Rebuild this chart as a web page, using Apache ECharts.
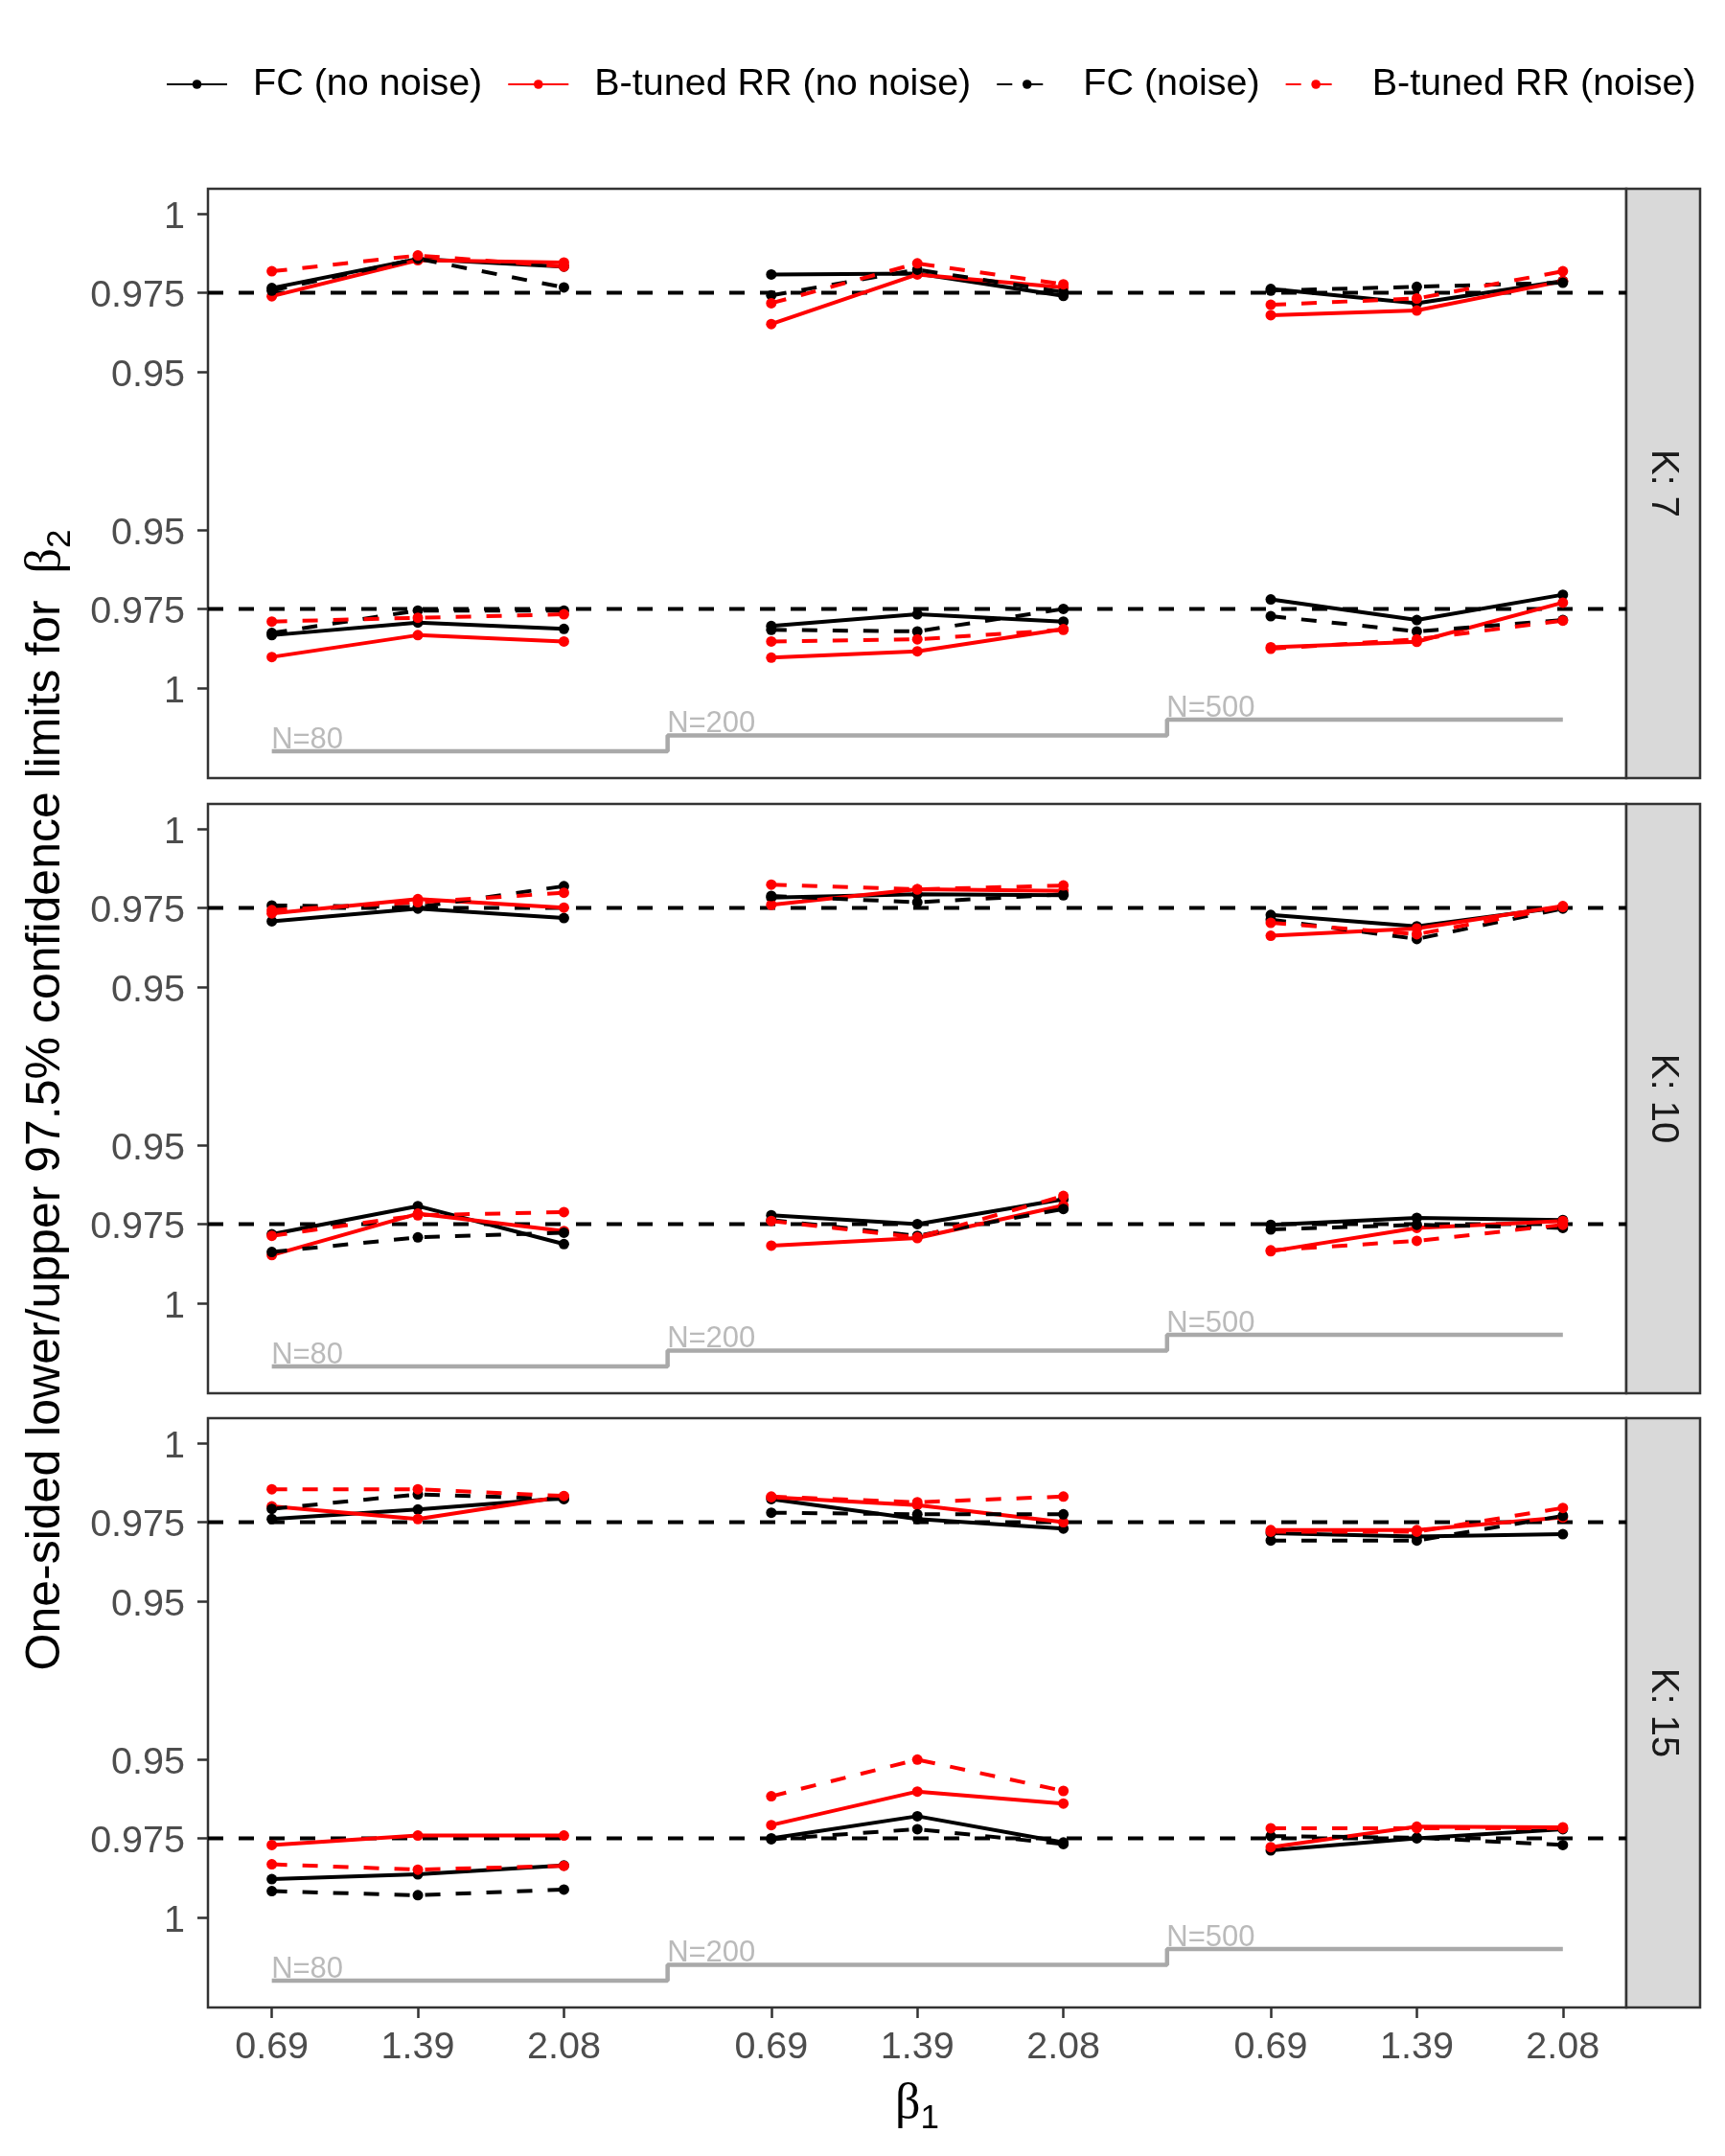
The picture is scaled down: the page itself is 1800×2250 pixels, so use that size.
<!DOCTYPE html>
<html>
<head>
<meta charset="utf-8">
<script src="https://cdn.jsdelivr.net/npm/echarts@6/dist/echarts.min.js"></script>
<style>
  html,body{margin:0;padding:0;background:#fff;}
  #chart{width:1800px;height:2250px;}
</style>
</head>
<body>
<div id="chart"></div>
<script>
// ---- data ----
const panelNames = ['K: 7', 'K: 10', 'K: 15'];
const methodNames = ['FC (no noise)', 'B-tuned RR (no noise)', 'FC (noise)', 'B-tuned RR (noise)'];
const sampleSizes = ['N=80', 'N=200', 'N=500'];
const beta1 = [0.693, 1.386, 2.079];
const beta1Labels = ['0.69', '1.39', '2.08'];
const yTickValues = [1, 0.975, 0.95];
const yTickLabels = ['1', '0.975', '0.95'];
const nominal = 0.975;
const nStepLevels = [0.830, 0.835, 0.840];

// rows = methods; 9 values = (N=80, N=200, N=500) x beta1
const upperK7 = [
  [0.9765, 0.9857, 0.9833, 0.9808, 0.9811, 0.9740, 0.9762, 0.9717, 0.9787],
  [0.9739, 0.9853, 0.9846, 0.9651, 0.9808, 0.9767, 0.9679, 0.9694, 0.9787],
  [0.9757, 0.9858, 0.9767, 0.9742, 0.9823, 0.9752, 0.9757, 0.9769, 0.9782],
  [0.9818, 0.9868, 0.9833, 0.9717, 0.9843, 0.9777, 0.9712, 0.9732, 0.9818]
];
const lowerK7 = [
  [0.9833, 0.9793, 0.9813, 0.9804, 0.9767, 0.9790, 0.9720, 0.9785, 0.9705],
  [0.9902, 0.9833, 0.9853, 0.9904, 0.9884, 0.9814, 0.9871, 0.9854, 0.9730],
  [0.9826, 0.9755, 0.9755, 0.9816, 0.9821, 0.9750, 0.9773, 0.9821, 0.9785],
  [0.9790, 0.9778, 0.9767, 0.9853, 0.9846, 0.9816, 0.9876, 0.9846, 0.9787]
];
const upperK10 = [
  [0.9708, 0.9748, 0.9718, 0.9783, 0.9793, 0.9790, 0.9728, 0.9692, 0.9753],
  [0.9733, 0.9778, 0.9751, 0.9760, 0.9809, 0.9804, 0.9662, 0.9685, 0.9756],
  [0.9758, 0.9753, 0.9819, 0.9788, 0.9768, 0.9793, 0.9713, 0.9652, 0.9748],
  [0.9743, 0.9768, 0.9798, 0.9824, 0.9809, 0.9821, 0.9703, 0.9667, 0.9753]
];
const lowerK10 = [
  [0.9782, 0.9693, 0.9813, 0.9722, 0.9750, 0.9671, 0.9752, 0.9730, 0.9737],
  [0.9848, 0.9717, 0.9772, 0.9818, 0.9794, 0.9691, 0.9836, 0.9762, 0.9740],
  [0.9838, 0.9792, 0.9777, 0.9737, 0.9787, 0.9702, 0.9767, 0.9752, 0.9762],
  [0.9787, 0.9722, 0.9712, 0.9740, 0.9792, 0.9661, 0.9833, 0.9803, 0.9752]
];
const upperK15 = [
  [0.9760, 0.9790, 0.9826, 0.9823, 0.9760, 0.9730, 0.9715, 0.9705, 0.9712],
  [0.9800, 0.9760, 0.9831, 0.9829, 0.9804, 0.9750, 0.9725, 0.9725, 0.9765],
  [0.9792, 0.9838, 0.9823, 0.9780, 0.9775, 0.9775, 0.9692, 0.9692, 0.9770],
  [0.9854, 0.9854, 0.9833, 0.9831, 0.9813, 0.9831, 0.9720, 0.9720, 0.9795]
];
const lowerK15 = [
  [0.9879, 0.9864, 0.9836, 0.9750, 0.9680, 0.9763, 0.9788, 0.9750, 0.9721],
  [0.9771, 0.9741, 0.9741, 0.9708, 0.9602, 0.9640, 0.9778, 0.9713, 0.9715],
  [0.9917, 0.9930, 0.9912, 0.9753, 0.9721, 0.9768, 0.9743, 0.9748, 0.9771],
  [0.9832, 0.9849, 0.9837, 0.9617, 0.9501, 0.9600, 0.9718, 0.9718, 0.9718]
];

// ---- layout / style ----
const C = { black:'#000000', red:'#FF0000', grey:'#A9A9A9', tick:'#4D4D4D', frame:'#333333', strip:'#D9D9D9' };
const FONT = '"Liberation Sans", Arial, sans-serif';
const SERIF = '"Liberation Serif", "DejaVu Serif", serif';
const GROUP_GAP = 2.37;          // x distance between N blocks
const LOWER_SHIFT = 1.85;        // lower limits are mirrored below the upper ones
const X_MIN = 0.39, X_MAX = 7.12, Y_MIN = 0.8215, Y_MAX = 1.0079;
const PL = 217, PW = 1480, PH = 615, tops = [197, 839, 1480];
const DASH = [16, 16];
const methodColor = [C.black, C.red, C.black, C.red];
const methodDash = ['solid', 'solid', DASH, DASH];

const xPos = (g, j) => beta1[j] + g * GROUP_GAP;
const xTicks = [];
sampleSizes.forEach((_, g) => beta1.forEach((_, j) => xTicks.push(xPos(g, j))));
const yTicks = yTickValues.concat(yTickValues.slice().reverse().map(v => LOWER_SHIFT - v));

function xLabel(v){
  const i = xTicks.findIndex(t => Math.abs(t - v) < 1e-6);
  return i < 0 ? '' : beta1Labels[i % 3];
}
function yLabel(v){
  const real = v > 0.925 ? v : LOWER_SHIFT - v;
  const i = yTickValues.findIndex(t => Math.abs(t - real) < 1e-6);
  return i < 0 ? '' : '{t|' + yTickLabels[i] + '}';
}

const grids = [], xAxes = [], yAxes = [], series = [];
const panels = [[upperK7, lowerK7], [upperK10, lowerK10], [upperK15, lowerK15]];

panels.forEach(([up, lo], p) => {
  const last = p === panels.length - 1;
  grids.push({ left: PL, width: PW, top: tops[p], height: PH, show: true,
    borderColor: C.frame, borderWidth: 2.5, backgroundColor: 'transparent' });
  xAxes.push({
    gridIndex: p, type: 'value', min: X_MIN, max: X_MAX,
    axisLine: { show: false }, splitLine: { show: false },
    axisTick: { show: last, customValues: xTicks, length: 11, lineStyle: { color: C.frame, width: 2.5 } },
    axisLabel: { show: last, customValues: xTicks, formatter: xLabel, margin: 22,
      color: C.tick, fontSize: 39.5, fontFamily: FONT }
  });
  yAxes.push({
    gridIndex: p, type: 'value', min: Y_MIN, max: Y_MAX,
    axisLine: { show: false }, splitLine: { show: false },
    axisTick: { show: true, customValues: yTicks, length: 11, lineStyle: { color: C.frame, width: 2.5 } },
    axisLabel: { customValues: yTicks, formatter: yLabel, margin: 24,
      color: C.tick, fontSize: 39.5, fontFamily: FONT,
      rich: { t: { color: C.tick, fontSize: 39.5, fontFamily: FONT, padding: [8, 0, 0, 0] } } }
  });

  // nominal 97.5% reference lines across the whole panel
  [nominal, LOWER_SHIFT - nominal].forEach(level => {
    series.push({
      type: 'line', xAxisIndex: p, yAxisIndex: p, symbol: 'none', silent: true, z: 3,
      data: [[X_MIN, level], [X_MAX, level]],
      lineStyle: { color: C.black, width: 4, type: DASH }
    });
  });

  // N step line with labels
  const mids = [0, 1].map(g => (xPos(g, 2) + xPos(g + 1, 0)) / 2);
  series.push({
    type: 'line', xAxisIndex: p, yAxisIndex: p, step: 'end', symbol: 'none', silent: true, z: 2,
    data: [[xPos(0, 0), nStepLevels[0]], [mids[0], nStepLevels[1]], [mids[1], nStepLevels[2]], [xPos(2, 2), nStepLevels[2]]],
    lineStyle: { color: C.grey, width: 4.5 }
  });
  series.push({
    type: 'scatter', xAxisIndex: p, yAxisIndex: p, symbolSize: 1, silent: true, z: 2,
    itemStyle: { color: 'rgba(0,0,0,0)' },
    data: [[xPos(0, 0), nStepLevels[0], sampleSizes[0]], [mids[0], nStepLevels[1], sampleSizes[1]], [mids[1], nStepLevels[2], sampleSizes[2]]],
    label: { show: true, formatter: d => d.data[2], position: [0, 4], align: 'left', verticalAlign: 'bottom',
      color: C.grey, fontSize: 31, fontFamily: FONT }
  });

  methodNames.forEach((name, m) => {
    [up, lo].forEach((tbl, h) => {
      sampleSizes.forEach((_, g) => {
        series.push({
          name, type: 'line', xAxisIndex: p, yAxisIndex: p, z: 5,
          symbol: 'circle', symbolSize: 11, color: methodColor[m],
          lineStyle: { width: 4, type: methodDash[m], color: methodColor[m] },
          data: beta1.map((_, j) => {
            const v = tbl[m][g * 3 + j];
            return [xPos(g, j), h === 0 ? v : LOWER_SHIFT - v];
          })
        });
      });
    });
  });
});

const graphic = [];
tops.forEach((t, i) => {
  graphic.push({ type: 'rect', shape: { x: PL + PW, y: t, width: 77, height: PH },
    style: { fill: C.strip, stroke: C.frame, lineWidth: 2.5 } });
  graphic.push({ type: 'text', x: PL + PW + 38.5, y: t + PH / 2, rotation: -Math.PI / 2,
    style: { text: panelNames[i], fill: '#1A1A1A', font: '40px ' + FONT, align: 'center', verticalAlign: 'middle' } });
});
graphic.push({
  type: 'text', x: 48, y: 1148, rotation: Math.PI / 2,
  style: {
    text: '{a|One-sided lower/upper 97.5% confidence limits for  }{b|β}{s|2}',
    align: 'center', verticalAlign: 'middle',
    rich: {
      a: { fontSize: 50, fontFamily: FONT, fill: '#000', lineHeight: 66, verticalAlign: 'middle' },
      b: { fontSize: 52, fontFamily: SERIF, fill: '#000', lineHeight: 66, verticalAlign: 'middle' },
      s: { fontSize: 35, fontFamily: FONT, fill: '#000', lineHeight: 35, verticalAlign: 'bottom' }
    }
  }
});
graphic.push({
  type: 'text', x: 957, y: 2196,
  style: {
    text: '{b|β}{s|1}', align: 'center', verticalAlign: 'middle',
    rich: {
      b: { fontSize: 52, fontFamily: SERIF, fill: '#000', lineHeight: 66, verticalAlign: 'middle' },
      s: { fontSize: 35, fontFamily: FONT, fill: '#000', lineHeight: 35, verticalAlign: 'bottom' }
    }
  }
});

const chart = echarts.init(document.getElementById('chart'));
chart.setOption({
  animation: false,
  backgroundColor: '#fff',
  legend: {
    data: methodNames, left: 168, top: 63, itemWidth: 63, itemHeight: 12, itemGap: 26,
    textStyle: { fontSize: 39.5, color: '#000', fontFamily: FONT, padding: [0, 0, 0, 22] }
  },
  grid: grids, xAxis: xAxes, yAxis: yAxes, series, graphic
});
</script>
</body>
</html>
